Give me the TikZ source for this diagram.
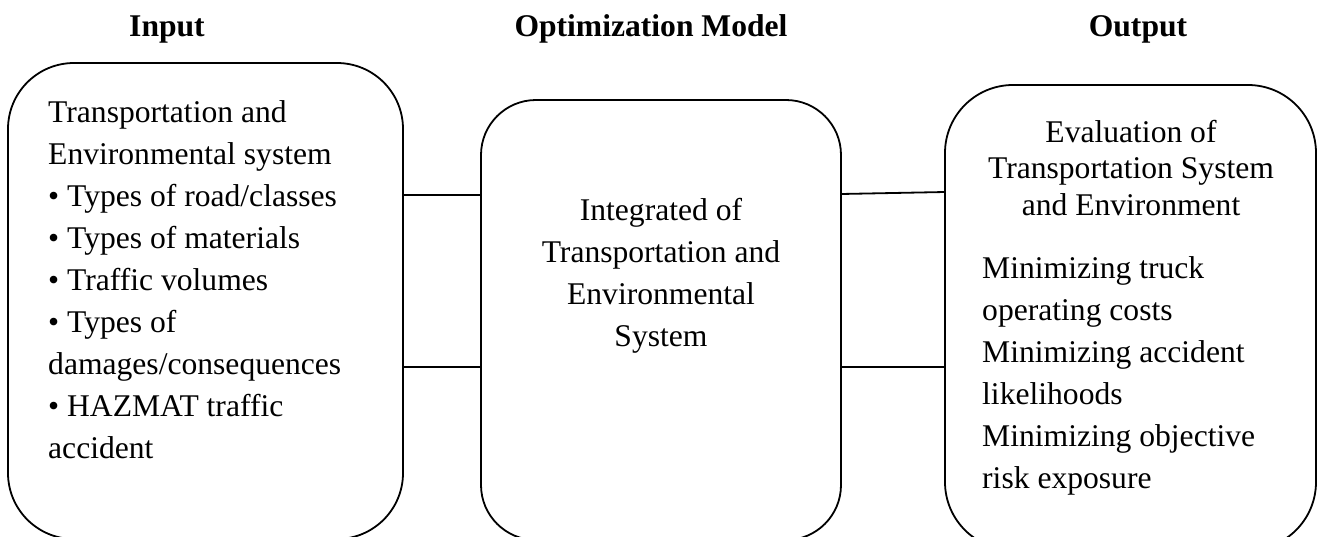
\documentclass[tikz,border=0pt]{standalone}
\usepackage{fontspec}
\setmainfont{Liberation Serif}
\begin{document}
\begin{tikzpicture}[x=1pt,y=-1pt,
  box/.style={draw=black, line width=1.8pt, rectangle, inner sep=0pt, outer sep=0pt},
  txt/.style={inner sep=0pt, font={\fontsize{31.6}{42}\selectfont}},
  head/.style={inner sep=0pt, font={\fontsize{31.6}{36.5}\selectfont}},
  title/.style={inner sep=0pt, font={\fontsize{31.6}{38}\selectfont\bfseries}},
  link/.style={draw=black, line width=1.8pt}]
\useasboundingbox (0,0) rectangle (1318,536);
\clip (0,0) rectangle (1318,536);
% titles
\node[title, anchor=base] (tin) at (167,36) {Input};
\node[title, anchor=base] (tmod) at (651,36) {Optimization Model};
\node[title, anchor=base] (tout) at (1138,36) {Output};
% boxes
\node[box, rounded corners=66pt, minimum width=395pt, minimum height=476pt] (in) at (205.5,301) {};
\node[box, rounded corners=55pt, minimum width=360pt, minimum height=440pt] (mid) at (661,320) {};
\node[box, rounded corners=68pt, minimum width=371pt, minimum height=465pt] (out) at (1130.5,317.5) {};
% texts
\node[txt, align=left, anchor=north west] (intext) at (48,100)
  {Transportation and\\Environmental system\\• Types of road/classes\\• Types of materials\\• Traffic volumes\\• Types of\\damages/consequences\\• HAZMAT traffic\\accident};
\node[txt, align=center, anchor=north] (midtext) at (661,198)
  {Integrated of\\Transportation and\\Environmental\\System};
\node[head, align=center, anchor=north] (outhead) at (1131,120)
  {Evaluation of\\Transportation System\\and Environment};
\node[txt, align=left, anchor=north west] (outtext) at (982,256)
  {Minimizing truck\\operating costs\\Minimizing accident\\likelihoods\\Minimizing objective\\risk exposure};
% connectors
\coordinate (a1) at (0,195);
\coordinate (a2) at (0,367);
\coordinate (b1) at (0,194);
\coordinate (b1r) at (0,192);
\coordinate (b2) at (0,367);
\draw[link] (in.east |- a1) -- (mid.west |- a1);
\draw[link] (in.east |- a2) -- (mid.west |- a2);
\draw[link] (mid.east |- b1) -- (out.west |- b1r);
\draw[link] (mid.east |- b2) -- (out.west |- b2);
\end{tikzpicture}
\end{document}
